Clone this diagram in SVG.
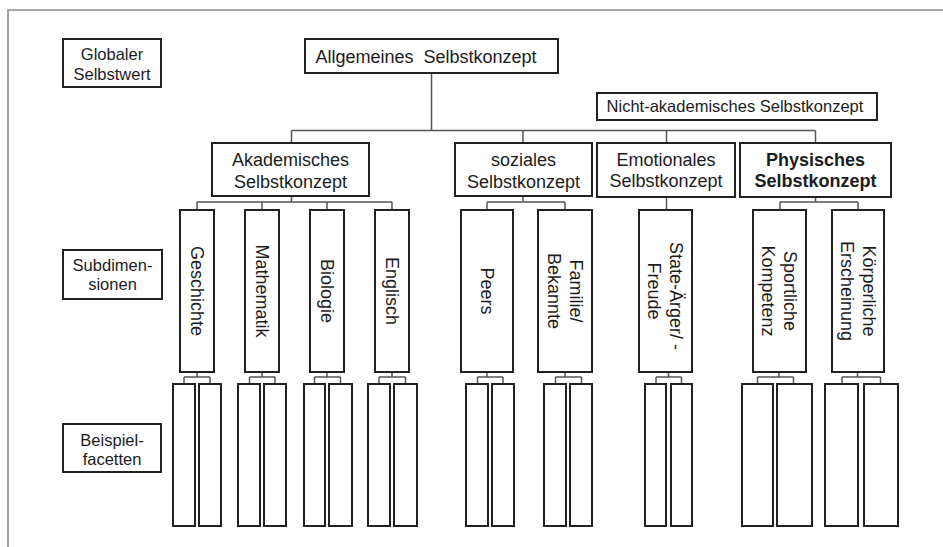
<svg xmlns="http://www.w3.org/2000/svg" width="943" height="547" viewBox="0 0 943 547">
<style>
.bg{fill:#fff}
.frame{stroke:#8a8a8a;stroke-width:1.6;fill:none}
.box{fill:#fff;stroke:#222;stroke-width:2}
.conn{fill:none;stroke:#555;stroke-width:1.5}
text{font-family:"Liberation Sans",Arial,sans-serif;fill:#1c1c1c;text-anchor:middle}
.lab{font-size:16.5px}
.top{font-size:18px}
.bold{font-weight:bold}
.rot{font-size:18px}
</style>
<rect class="bg" x="0" y="0" width="943" height="547"/>
<g id="frame">
<path class="frame" d="M8,547 V10 H943"/>
</g>
<g id="connectors">
<path class="conn" d="M431.5,73 V130.5 M291.5,130.5 H815.5 M291.5,130.5 V143 M523,130.5 V143 M666.5,130.5 V143 M815.5,130.5 V143"/>
<path class="conn" d="M291.5,196 V202 M197,202 H392 M197,202 V210 M262,202 V210 M327,202 V210 M392,202 V210"/>
<path class="conn" d="M523,196 V202 M487,202 H565 M487,202 V210 M565,202 V210"/>
<path class="conn" d="M666.5,197 V210"/>
<path class="conn" d="M815.5,197 V202 M780,202 H858 M780,202 V210 M858,202 V210"/>
<path class="conn" d="M197,372 V377 M184,377 H210 M184,377 V384 M210,377 V384"/>
<path class="conn" d="M262,372 V377 M249.5,377 H275 M249.5,377 V384 M275,377 V384"/>
<path class="conn" d="M327,372 V377 M314.5,377 H340.5 M314.5,377 V384 M340.5,377 V384"/>
<path class="conn" d="M392,372 V377 M379,377 H405.5 M379,377 V384 M405.5,377 V384"/>
<path class="conn" d="M487,372 V377 M477.5,377 H503 M477.5,377 V384 M503,377 V384"/>
<path class="conn" d="M565,372 V377 M555.5,377 H581.5 M555.5,377 V384 M581.5,377 V384"/>
<path class="conn" d="M668.5,372 V377 M656,377 H681.5 M656,377 V384 M681.5,377 V384"/>
<path class="conn" d="M779,372 V377 M757.5,377 H793.5 M757.5,377 V384 M793.5,377 V384"/>
<path class="conn" d="M857.5,372 V377 M842,377 H880.5 M842,377 V384 M880.5,377 V384"/>
</g>
<g id="globaler">
<rect class="box" x="63" y="39" width="98" height="48"/>
<text class="lab" x="112" y="60">Globaler</text>
<text class="lab" x="112" y="79.5">Selbstwert</text>
</g>
<g id="subdim-label">
<rect class="box" x="63" y="250" width="99" height="49"/>
<text class="lab" x="112.5" y="271">Subdimen-</text>
<text class="lab" x="112.5" y="290">sionen</text>
</g>
<g id="facet-label">
<rect class="box" x="63" y="424" width="98" height="48"/>
<text class="lab" x="112" y="446">Beispiel-</text>
<text class="lab" x="112" y="465">facetten</text>
</g>
<g id="allgemeines">
<rect class="box" x="305" y="39" width="253" height="34"/>
<text class="top" x="426" y="62.5" style="word-spacing:5px">Allgemeines Selbstkonzept</text>
</g>
<g id="nicht-akademisch">
<rect class="box" x="597" y="93" width="280" height="27"/>
<text class="lab" x="735" y="112.3">Nicht-akademisches Selbstkonzept</text>
</g>
<g id="akademisch">
<rect class="box" x="212" y="143" width="157" height="53"/>
<text class="top" x="290.5" y="165.7">Akademisches</text>
<text class="top" x="290.5" y="188">Selbstkonzept</text>
</g>
<g id="sozial">
<rect class="box" x="455" y="143" width="137" height="53"/>
<text class="top" x="523.5" y="165.7">soziales</text>
<text class="top" x="523.5" y="188">Selbstkonzept</text>
</g>
<g id="emotional">
<rect class="box" x="597" y="143" width="138" height="54"/>
<text class="top" x="666" y="165.7">Emotionales</text>
<text class="top" x="666" y="187">Selbstkonzept</text>
</g>
<g id="physisch">
<rect class="box" x="740" y="143" width="151" height="54"/>
<text class="top bold" x="815.5" y="165.7">Physisches</text>
<text class="top bold" x="815.5" y="187">Selbstkonzept</text>
</g>
<g id="geschichte">
<rect class="box" x="180" y="210" width="34" height="162"/>
<text class="rot" transform="translate(197,291) rotate(90)" x="0" y="6.5">Geschichte</text>
</g>
<g id="mathematik">
<rect class="box" x="245" y="210" width="34" height="162"/>
<text class="rot" transform="translate(262,291) rotate(90)" x="0" y="6.5">Mathematik</text>
</g>
<g id="biologie">
<rect class="box" x="310" y="210" width="34" height="162"/>
<text class="rot" transform="translate(327,291) rotate(90)" x="0" y="6.5">Biologie</text>
</g>
<g id="englisch">
<rect class="box" x="375" y="210" width="34" height="162"/>
<text class="rot" transform="translate(392,291) rotate(90)" x="0" y="6.5">Englisch</text>
</g>
<g id="peers">
<rect class="box" x="461" y="210" width="52" height="162"/>
<text class="rot" transform="translate(487,291) rotate(90)" x="0" y="6.5">Peers</text>
</g>
<g id="familie">
<rect class="box" x="538" y="210" width="54" height="162"/>
<text class="rot" transform="translate(565,291) rotate(90)"><tspan x="0" y="-4.5">Familie/</tspan><tspan x="0" y="17.5">Bekannte</tspan></text>
</g>
<g id="state">
<rect class="box" x="639" y="210" width="53" height="162"/>
<text class="rot" transform="translate(665.5,291) rotate(90)"><tspan x="5" y="-4.5">State-Ärger/ -</tspan><tspan x="0" y="17.5">Freude</tspan></text>
</g>
<g id="sportlich">
<rect class="box" x="753" y="210" width="53" height="162"/>
<text class="rot" transform="translate(779.5,291) rotate(90)"><tspan x="0" y="-4.5">Sportliche</tspan><tspan x="0" y="17.5">Kompetenz</tspan></text>
</g>
<g id="koerperlich">
<rect class="box" x="832" y="210" width="52" height="162"/>
<text class="rot" transform="translate(858,291) rotate(90)"><tspan x="0" y="-4.5">Körperliche</tspan><tspan x="0" y="17.5">Erscheinung</tspan></text>
</g>
<g id="facetten">
<rect class="box" x="173" y="384" width="22" height="142"/>
<rect class="box" x="199" y="384" width="22" height="142"/>
<rect class="box" x="238" y="384" width="22" height="142"/>
<rect class="box" x="264" y="384" width="22" height="142"/>
<rect class="box" x="304" y="384" width="21" height="142"/>
<rect class="box" x="329" y="384" width="23" height="142"/>
<rect class="box" x="368" y="384" width="22" height="142"/>
<rect class="box" x="394" y="384" width="23" height="142"/>
<rect class="box" x="466" y="384" width="22" height="142"/>
<rect class="box" x="492" y="384" width="22" height="142"/>
<rect class="box" x="544" y="384" width="22" height="142"/>
<rect class="box" x="570" y="384" width="22" height="142"/>
<rect class="box" x="645" y="384" width="21" height="142"/>
<rect class="box" x="671" y="384" width="21" height="142"/>
<rect class="box" x="742" y="384" width="31" height="142"/>
<rect class="box" x="777" y="384" width="35" height="142"/>
<rect class="box" x="825" y="384" width="33" height="142"/>
<rect class="box" x="864" y="384" width="34" height="142"/>
</g>
</svg>
